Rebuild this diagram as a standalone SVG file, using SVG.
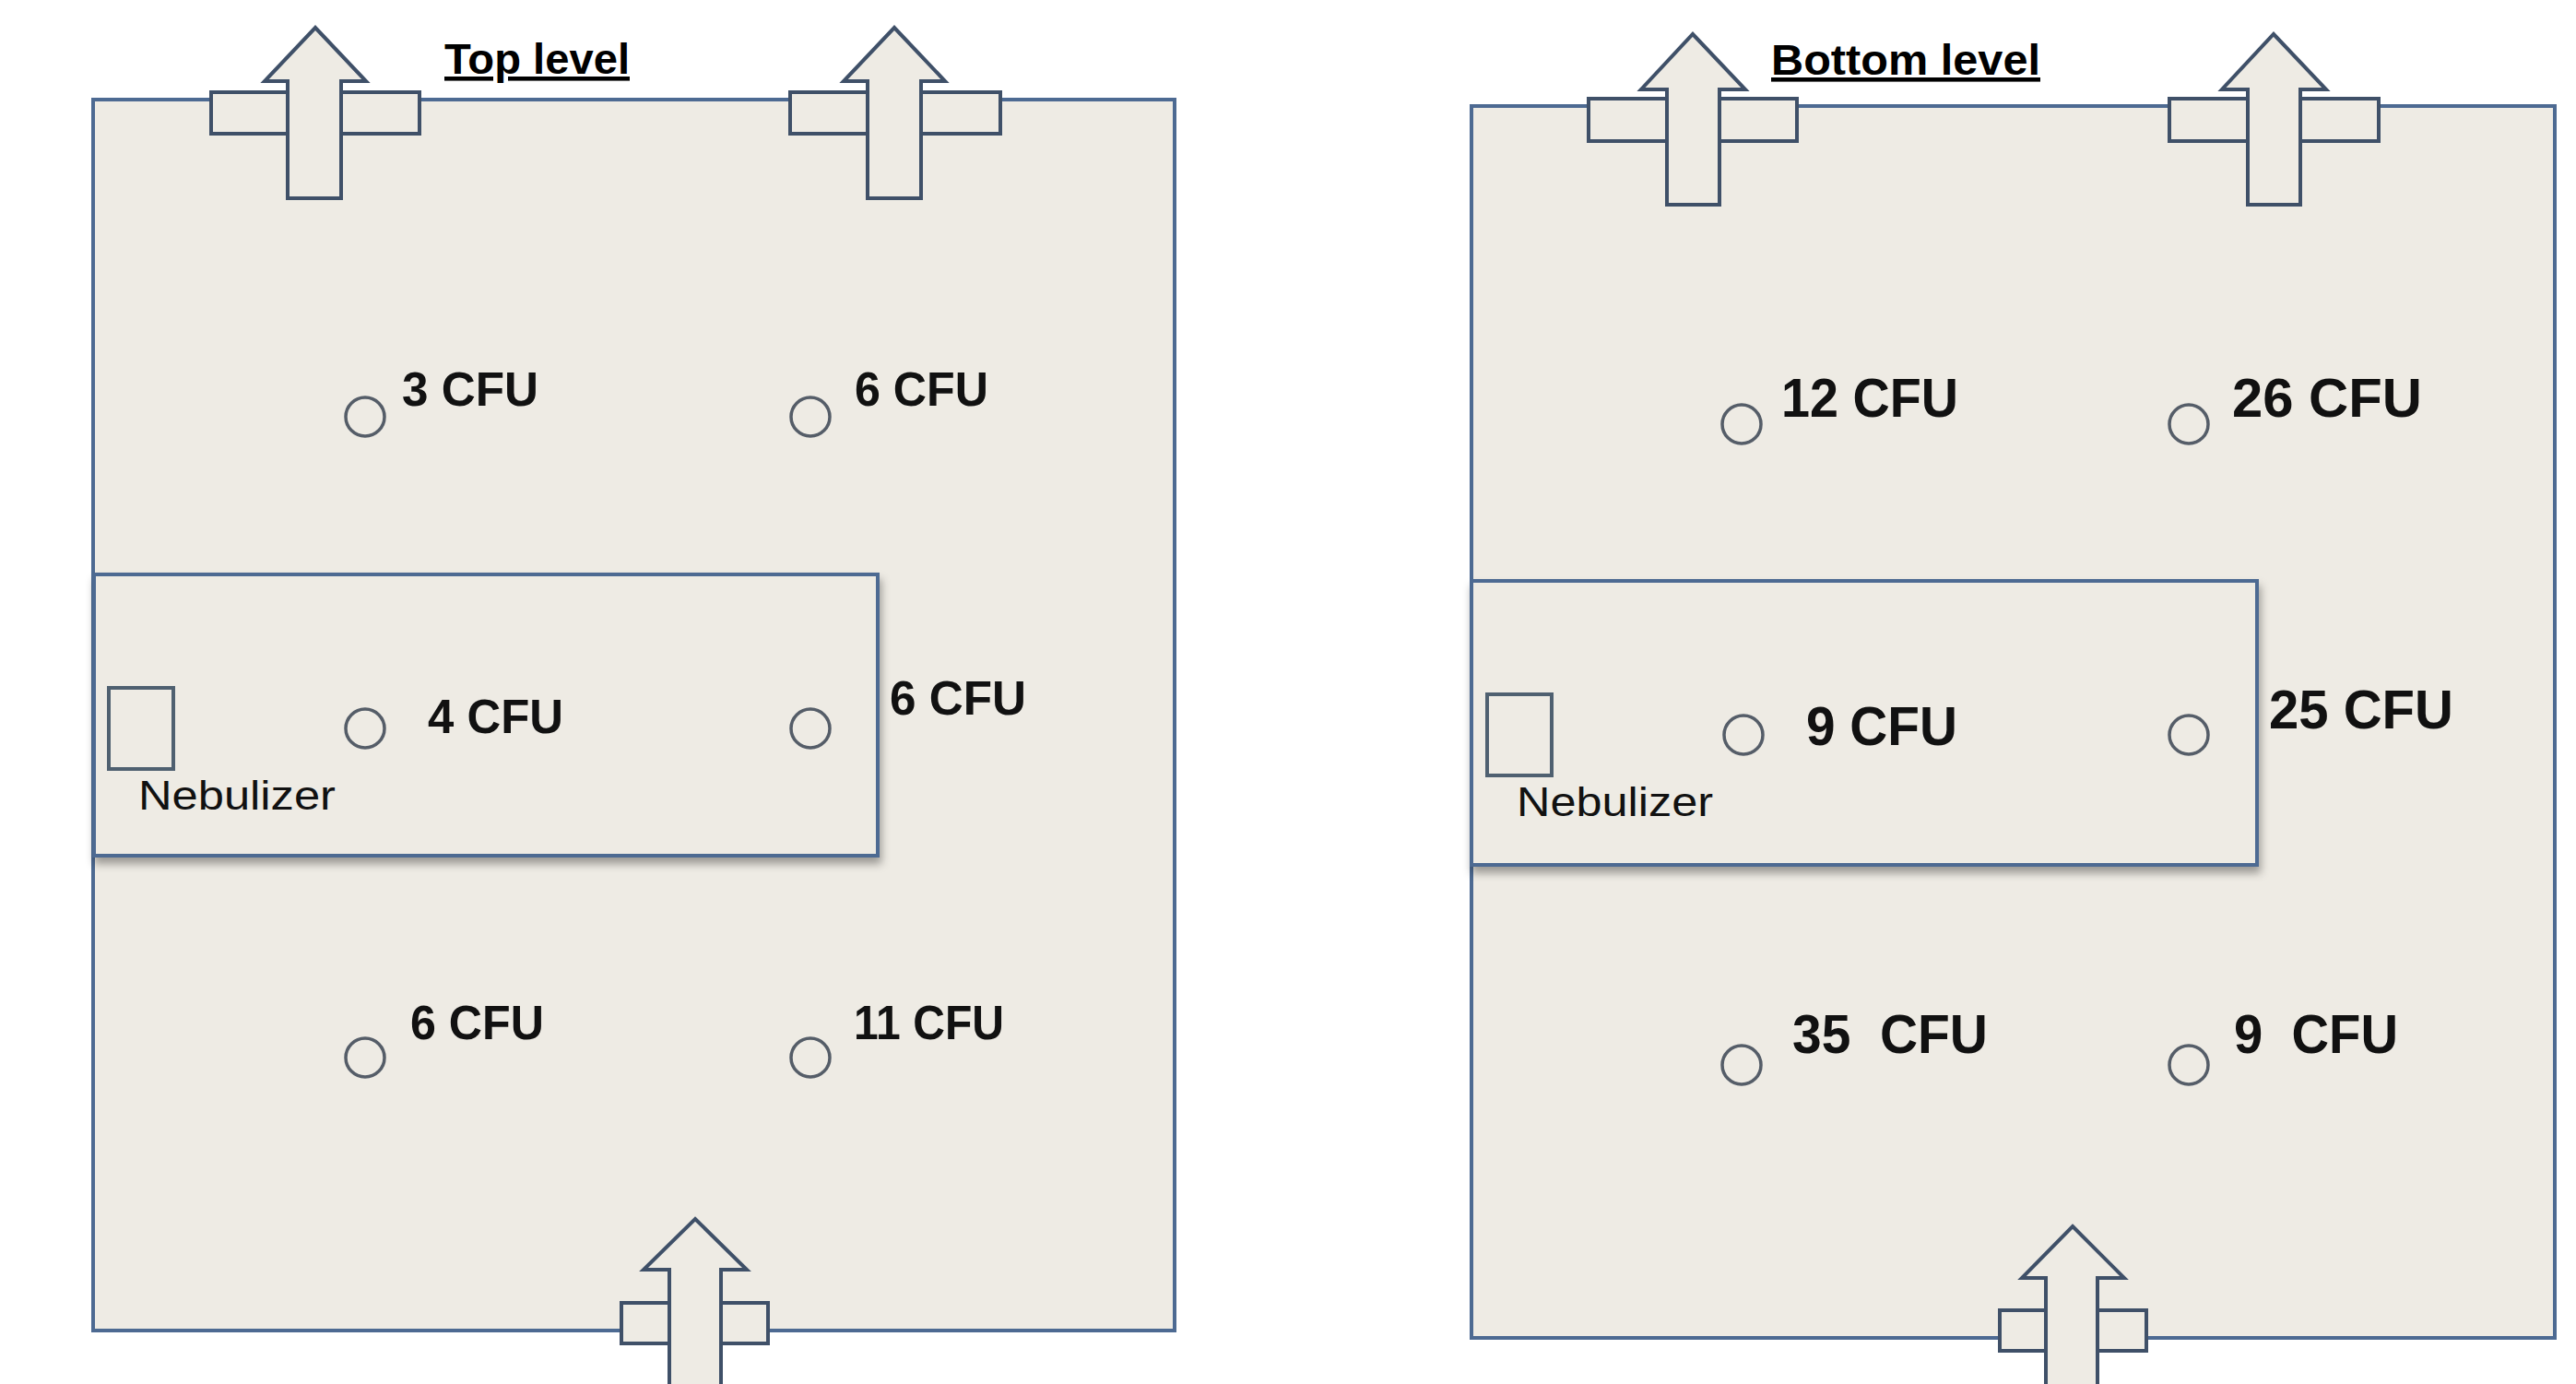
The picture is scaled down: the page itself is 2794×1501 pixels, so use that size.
<svg xmlns="http://www.w3.org/2000/svg" width="2794" height="1501" viewBox="0 0 2794 1501">
<style>
.room{fill:#eeebe4;stroke:#4d6a92;stroke-width:4}
.inner{fill:#eeebe4;stroke:#4d6a92;stroke-width:4}
.vent{fill:#eeebe4;stroke:#3f5068;stroke-width:4}
.arrow{fill:#eeebe4;stroke:#3f5068;stroke-width:4;stroke-linejoin:miter}
.neb{fill:none;stroke:#4f6070;stroke-width:4}
.pt{fill:none;stroke:#555d68;stroke-width:3.5}
.cfu{font-family:"Liberation Sans",Arial,sans-serif;font-weight:bold;fill:#111}
.cl{font-size:52px}
.cr{font-size:59px}
.title{font-family:"Liberation Sans",Arial,sans-serif;font-weight:bold;font-size:46px;fill:#000;text-decoration:underline}
.nebt{font-family:"Liberation Sans",Arial,sans-serif;font-size:44px;fill:#111}
</style>
<defs>
<filter id="sh" x="-5%" y="-10%" width="110%" height="125%">
<feDropShadow dx="2" dy="7" stdDeviation="5" flood-color="#000" flood-opacity="0.35"/>
</filter>
</defs>
<rect width="2794" height="1501" fill="#ffffff"/>

<g id="top-level">
<rect id="top-room" class="room" x="101" y="108" width="1173" height="1335"/>
<g id="top-inner-zone">
<rect class="inner" x="102" y="623" width="850" height="305" filter="url(#sh)"/>
</g>
<g id="top-nebulizer">
<rect class="neb" x="118" y="746" width="70" height="88"/>
<text class="nebt" x="150" y="878" textLength="214" lengthAdjust="spacingAndGlyphs">Nebulizer</text>
</g>
<g id="top-vents">
<rect class="vent" x="229" y="100" width="226" height="45"/>
<polygon class="arrow" points="342,30 397,88 370,88 370,215 312,215 312,88 287,88"/>
<rect class="vent" x="857" y="100" width="228" height="45"/>
<polygon class="arrow" points="970,30 1025,88 999,88 999,215 941,215 941,88 915,88"/>
<rect class="vent" x="674" y="1413" width="159" height="44"/>
<polygon class="arrow" points="754,1322 810,1377 782,1377 782,1510 726,1510 726,1377 698,1377"/>
</g>
<text id="top-title" class="title" x="482" y="80" textLength="201" lengthAdjust="spacingAndGlyphs">Top level</text>
<g id="top-s1"><circle class="pt" cx="396" cy="452" r="21"/><text class="cfu cl" x="436" y="440" textLength="148" lengthAdjust="spacingAndGlyphs">3 CFU</text></g>
<g id="top-s2"><circle class="pt" cx="879" cy="452" r="21"/><text class="cfu cl" x="927" y="440" textLength="145" lengthAdjust="spacingAndGlyphs">6 CFU</text></g>
<g id="top-s3"><circle class="pt" cx="396" cy="790" r="21"/><text class="cfu cl" x="464" y="795" textLength="147" lengthAdjust="spacingAndGlyphs">4 CFU</text></g>
<g id="top-s4"><circle class="pt" cx="879" cy="790" r="21"/><text class="cfu cl" x="965" y="775" textLength="148" lengthAdjust="spacingAndGlyphs">6 CFU</text></g>
<g id="top-s5"><circle class="pt" cx="396" cy="1147" r="21"/><text class="cfu cl" x="445" y="1127" textLength="145" lengthAdjust="spacingAndGlyphs">6 CFU</text></g>
<g id="top-s6"><circle class="pt" cx="879" cy="1147" r="21"/><text class="cfu cl" x="926" y="1127" textLength="163" lengthAdjust="spacingAndGlyphs">11 CFU</text></g>
</g>

<g id="bottom-level">
<rect id="bottom-room" class="room" x="1596" y="115" width="1175" height="1336"/>
<g id="bottom-inner-zone">
<rect class="inner" x="1596" y="630" width="852" height="308" filter="url(#sh)"/>
</g>
<g id="bottom-nebulizer">
<rect class="neb" x="1613" y="753" width="70" height="88"/>
<text class="nebt" x="1645" y="885" textLength="213" lengthAdjust="spacingAndGlyphs">Nebulizer</text>
</g>
<g id="bottom-vents">
<rect class="vent" x="1723" y="107" width="226" height="46"/>
<polygon class="arrow" points="1836,37 1893,97 1865,97 1865,222 1808,222 1808,97 1780,97"/>
<rect class="vent" x="2353" y="107" width="227" height="46"/>
<polygon class="arrow" points="2466,37 2523,97 2495,97 2495,222 2438,222 2438,97 2410,97"/>
<rect class="vent" x="2169" y="1421" width="159" height="44"/>
<polygon class="arrow" points="2248,1330 2304,1386 2275,1386 2275,1510 2219,1510 2219,1386 2193,1386"/>
</g>
<text id="bottom-title" class="title" x="1921" y="81" textLength="292" lengthAdjust="spacingAndGlyphs">Bottom level</text>
<g id="bottom-s1"><circle class="pt" cx="1889" cy="460" r="21"/><text class="cfu cr" x="1932" y="452" textLength="192" lengthAdjust="spacingAndGlyphs">12 CFU</text></g>
<g id="bottom-s2"><circle class="pt" cx="2374" cy="460" r="21"/><text class="cfu cr" x="2421" y="452" textLength="206" lengthAdjust="spacingAndGlyphs">26 CFU</text></g>
<g id="bottom-s3"><circle class="pt" cx="1891" cy="797" r="21"/><text class="cfu cr" x="1959" y="808" textLength="164" lengthAdjust="spacingAndGlyphs">9 CFU</text></g>
<g id="bottom-s4"><circle class="pt" cx="2374" cy="797" r="21"/><text class="cfu cr" x="2461" y="790" textLength="200" lengthAdjust="spacingAndGlyphs">25 CFU</text></g>
<g id="bottom-s5"><circle class="pt" cx="1889" cy="1155" r="21"/><text class="cfu cr" x="1944" y="1142" textLength="212" lengthAdjust="spacingAndGlyphs" xml:space="preserve">35  CFU</text></g>
<g id="bottom-s6"><circle class="pt" cx="2374" cy="1155" r="21"/><text class="cfu cr" x="2423" y="1142" textLength="178" lengthAdjust="spacingAndGlyphs" xml:space="preserve">9  CFU</text></g>
</g>
<g id="connectors"/>
</svg>
